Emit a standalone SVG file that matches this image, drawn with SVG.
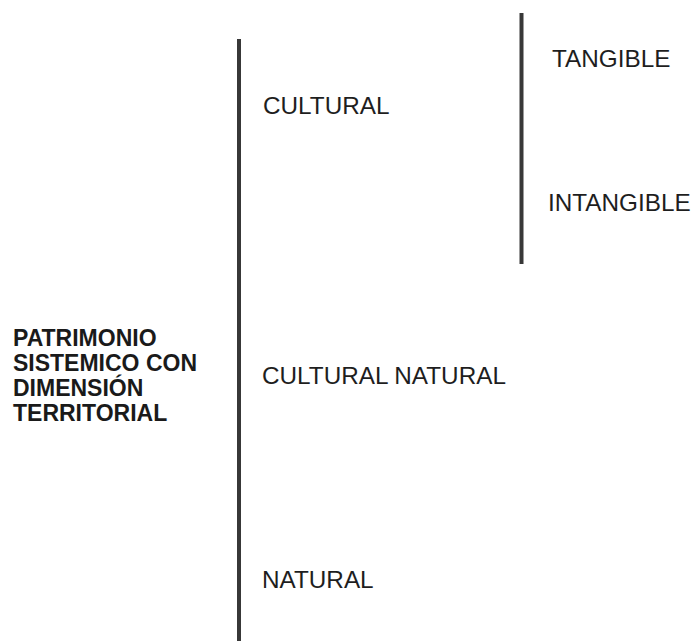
<svg xmlns="http://www.w3.org/2000/svg" width="694" height="641" viewBox="0 0 694 641">
<style>
.lbl{font-family:"Liberation Sans",Arial,sans-serif;font-size:24.3px;fill:#1e1e1e;}
.root{font-family:"Liberation Sans",Arial,sans-serif;font-size:23px;font-weight:bold;fill:#1a1a1a;}
.br{stroke:#383838;stroke-width:4;fill:none;}
</style>
<rect width="694" height="641" fill="#fff"/>
<g id="connectors">
<line class="br" x1="239" y1="39" x2="239" y2="641"/>
<line class="br" x1="521.5" y1="13" x2="521.5" y2="264"/>
</g>
<g id="root">
<text class="root" x="13" y="346">PATRIMONIO</text>
<text class="root" x="13" y="371">SISTEMICO CON</text>
<text class="root" x="13" y="396">DIMENSIÓN</text>
<text class="root" x="13" y="421">TERRITORIAL</text>
</g>
<g id="cultural"><text class="lbl" x="263" y="114">CULTURAL</text></g>
<g id="tangible"><text class="lbl" x="552" y="67">TANGIBLE</text></g>
<g id="intangible"><text class="lbl" x="548" y="211">INTANGIBLE</text></g>
<g id="cultural-natural"><text class="lbl" x="262" y="384">CULTURAL NATURAL</text></g>
<g id="natural"><text class="lbl" x="262" y="588">NATURAL</text></g>
</svg>
